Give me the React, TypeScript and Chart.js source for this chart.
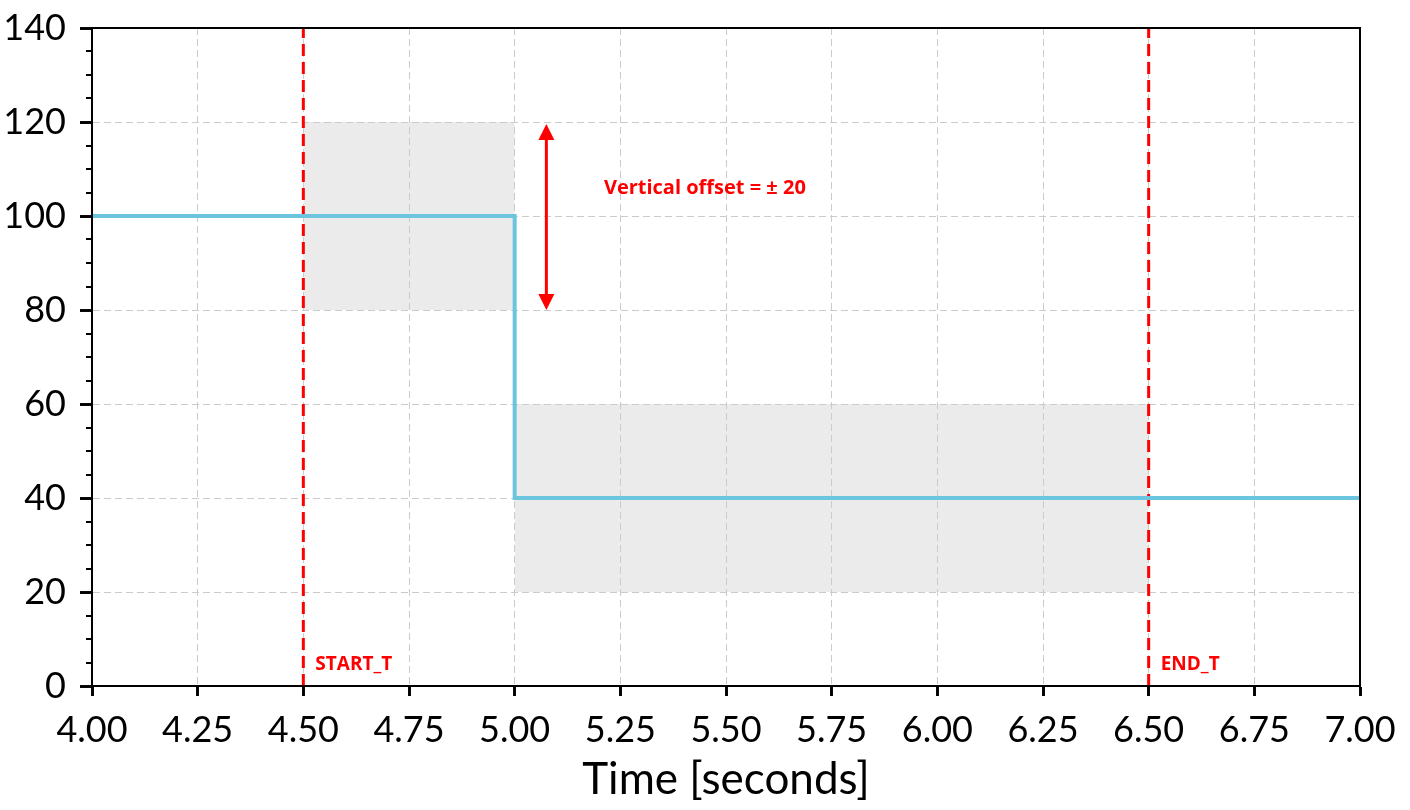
import React, { useEffect, useRef } from "react";
import { Chart, registerables } from "chart.js";

Chart.register(...registerables);

// ---- data ----
const stepTimes = [4.0, 5.0, 5.0, 7.0];
const stepValues = [100, 100, 40, 40];

const bandStarts = [4.5, 5.0];
const bandEnds = [5.0, 6.5];
const bandLows = [80, 20];
const bandHighs = [120, 60];

const markerTimes = [4.5, 6.5];
const markerLabels = ["START_T", "END_T"];

const arrowTime = 5.075;
const arrowLow = 80;
const arrowHigh = 120;
const offsetLabel = "Vertical offset = ± 20";
const offsetLabelPos = [5.45, 106];

const xMin = 4.0;
const xMax = 7.0;
const xStep = 0.25;
const yMin = 0;
const yMax = 140;
const yStep = 20;
const yMinorStep = 5;
const xTitle = "Time [seconds]";

const LINE_BLUE = "#6cc5df";
const RED = "#ff0000";
const BAND = "#ebebeb";
const GRID = "#cbcbcb";
const TICK_FONT = "Lato";

export default function App() {
  const ref = useRef<HTMLCanvasElement | null>(null);

  useEffect(() => {
    const canvas = ref.current;
    if (!canvas) return;

    const datasets: any[] = [];
    datasets.push({
      label: "signal",
      data: stepTimes.map((t, i) => ({ x: t, y: stepValues[i] })),
      borderColor: LINE_BLUE,
      borderWidth: 4,
      pointRadius: 0,
      tension: 0,
      fill: false,
      order: 0,
    });
    markerTimes.forEach((t, i) => {
      datasets.push({
        label: markerLabels[i],
        data: [
          { x: t, y: yMin },
          { x: t, y: yMax },
        ],
        borderColor: RED,
        borderWidth: 3,
        borderDash: [12, 6],
        pointRadius: 0,
        fill: false,
        order: 1,
      });
    });
    bandStarts.forEach((s, i) => {
      datasets.push({
        label: "bandHigh" + i,
        isBand: true,
        data: [
          { x: s, y: bandHighs[i] },
          { x: bandEnds[i], y: bandHighs[i] },
        ],
        borderWidth: 0,
        borderColor: "rgba(0,0,0,0)",
        backgroundColor: BAND,
        pointRadius: 0,
        fill: "+1",
        order: 10,
      });
      datasets.push({
        label: "bandLow" + i,
        isBand: true,
        data: [
          { x: s, y: bandLows[i] },
          { x: bandEnds[i], y: bandLows[i] },
        ],
        borderWidth: 0,
        borderColor: "rgba(0,0,0,0)",
        pointRadius: 0,
        fill: false,
        order: 10,
      });
    });

    const overlay = {
      id: "overlay",
      afterDatasetDraw(chart: any, args: any) {
        const ds = chart.data.datasets[args.index];
        if (ds && ds.isBand) {
          const ctx = chart.ctx;
          ctx.save();
          chart.scales.x.drawGrid(chart.chartArea);
          chart.scales.y.drawGrid(chart.chartArea);
          ctx.restore();
        }
      },
      afterDraw(chart: any) {
        const ctx = chart.ctx;
        const xs = chart.scales.x;
        const ys = chart.scales.y;
        const a = chart.chartArea;
        ctx.save();
        ctx.setLineDash([]);
        // frame
        ctx.strokeStyle = "#000";
        ctx.lineWidth = 2;
        ctx.strokeRect(a.left, a.top, a.right - a.left, a.bottom - a.top);
        // minor y ticks
        for (let v = yMin; v <= yMax; v += yMinorStep) {
          if (v % yStep === 0) continue;
          const py = Math.round(ys.getPixelForValue(v));
          ctx.beginPath();
          ctx.moveTo(a.left - 6, py);
          ctx.lineTo(a.left, py);
          ctx.stroke();
        }
        // marker labels
        ctx.fillStyle = RED;
        ctx.font = "bold 19px 'Open Sans'";
        ctx.textBaseline = "middle";
        ctx.textAlign = "left";
        markerTimes.forEach((t, i) => {
          ctx.fillText(markerLabels[i], xs.getPixelForValue(t) + 12, ys.getPixelForValue(0) - 21);
        });
        // arrow
        const ax = xs.getPixelForValue(arrowTime);
        const yTop = ys.getPixelForValue(arrowHigh);
        const yBot = ys.getPixelForValue(arrowLow);
        const head = 16;
        const hw = 8;
        ctx.strokeStyle = RED;
        ctx.lineWidth = 3;
        ctx.beginPath();
        ctx.moveTo(ax, yTop + head);
        ctx.lineTo(ax, yBot - head);
        ctx.stroke();
        ctx.beginPath();
        ctx.moveTo(ax, yTop + 2);
        ctx.lineTo(ax - hw, yTop + head + 2);
        ctx.lineTo(ax + hw, yTop + head + 2);
        ctx.closePath();
        ctx.fill();
        ctx.beginPath();
        ctx.moveTo(ax, yBot);
        ctx.lineTo(ax - hw, yBot - head);
        ctx.lineTo(ax + hw, yBot - head);
        ctx.closePath();
        ctx.fill();
        // offset label
        ctx.textAlign = "center";
        ctx.font = "bold 20px 'Open Sans'";
        ctx.fillText(offsetLabel, xs.getPixelForValue(offsetLabelPos[0]), ys.getPixelForValue(offsetLabelPos[1]));
        ctx.restore();
      },
    };

    const chart = new Chart(canvas, {
      type: "line",
      data: { datasets },
      options: {
        animation: false,
        responsive: true,
        maintainAspectRatio: false,
        layout: { padding: { top: 28, right: 50, left: 0, bottom: 0 } },
        plugins: {
          legend: { display: false },
          tooltip: { enabled: false },
          filler: { propagate: false },
        },
        scales: {
          x: {
            type: "linear",
            min: xMin,
            max: xMax,
            afterFit(scale: any) {
              scale.height = 124;
              scale.paddingLeft = 0;
              scale.paddingRight = 0;
            },
            ticks: {
              stepSize: xStep,
              color: "#000",
              font: { family: TICK_FONT, size: 36 },
              padding: 13,
              maxRotation: 0,
              autoSkip: false,
              callback: (v: any) => Number(v).toFixed(2),
            },
            grid: {
              color: GRID,
              lineWidth: 1,
              tickColor: "#000",
              tickWidth: 2,
              tickLength: 10,
            },
            border: { display: true, color: "#000", width: 2, dash: [7, 4] },
            title: {
              display: true,
              text: xTitle,
              color: "#000",
              font: { family: TICK_FONT, size: 44 },
              padding: { top: 0, bottom: 4 },
            },
          },
          y: {
            type: "linear",
            min: yMin,
            max: yMax,
            afterFit(scale: any) {
              scale.width = 92;
              scale.paddingTop = 0;
              scale.paddingBottom = 0;
            },
            ticks: {
              stepSize: yStep,
              color: "#000",
              font: { family: TICK_FONT, size: 36 },
              padding: 14,
              callback: (v: any) => String(v),
            },
            grid: {
              color: GRID,
              lineWidth: 1,
              tickColor: "#000",
              tickWidth: 2,
              tickLength: 12,
            },
            border: { display: true, color: "#000", width: 2, dash: [7, 4] },
          },
        },
      } as any,
      plugins: [overlay],
    });

    return () => chart.destroy();
  }, []);

  return (
    <div style={{ position: "fixed", left: 0, top: 0, width: 1410, height: 810, background: "#fff" }}>
      <canvas ref={ref} />
    </div>
  );
}
